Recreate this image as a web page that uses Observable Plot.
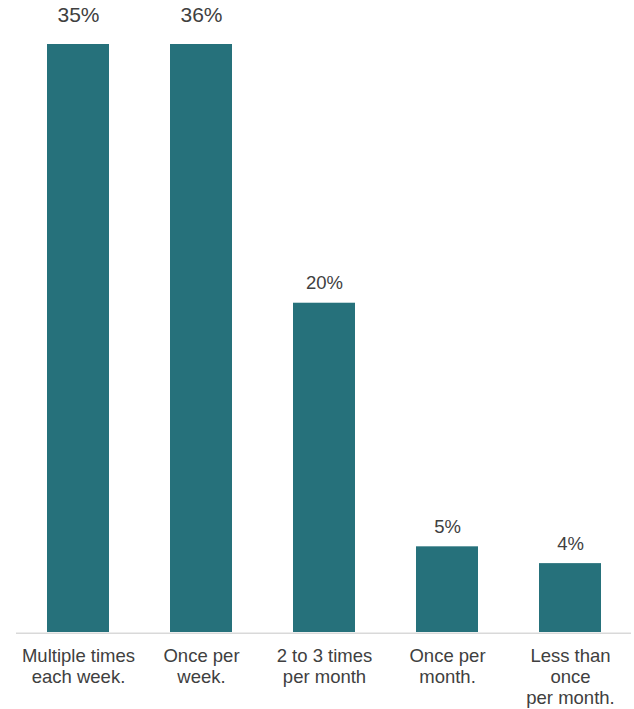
<!DOCTYPE html>
<html>
<head>
<meta charset="utf-8">
<script src="https://cdn.jsdelivr.net/npm/d3@7"></script>
<script src="https://cdn.jsdelivr.net/npm/@observablehq/plot@0.6"></script>
<style>
  html, body { margin: 0; padding: 0; background: #ffffff; }
  #chart svg { display: block; }
</style>
</head>
<body>
<div id="chart"></div>
<script>
// Data
const categories = [
  "Multiple times each week.",
  "Once per week.",
  "2 to 3 times per month",
  "Once per month.",
  "Less than once per month."
];
const tickLabels = [
  "Multiple times\neach week.",
  "Once per\nweek.",
  "2 to 3 times\nper month",
  "Once per\nmonth.",
  "Less than\nonce\nper month."
];
const values = [35, 36, 19.6, 5.1, 4.1];
const axisMax = 35; // bars above this are cut off at the top of the chart

const data = categories.map((c, i) => ({
  category: c,
  tick: tickLabels[i],
  value: values[i],
  label: Math.round(values[i]) + "%"
}));

const font = "'Liberation Sans', Arial, Helvetica, sans-serif";
const textColor = "#404040";

const chart = Plot.plot({
  width: 634,
  height: 709,
  marginTop: 44,
  marginBottom: 77,
  marginLeft: 16,
  marginRight: 3,
  style: { fontFamily: font, background: "#ffffff" },
  x: { domain: categories, paddingInner: 0.5, paddingOuter: 0.25, axis: null },
  y: { domain: [0, axisMax], clamp: true, axis: null },
  marks: [
    Plot.barY(data, { x: "category", y: "value", fill: "#26717b" }),
    Plot.ruleY([0], { stroke: "#d9d9d9", strokeWidth: 1.5, dy: 0.75 }),
    // value labels for bars within the axis
    Plot.text(data.filter(d => d.value < axisMax), {
      x: "category", y: "value", text: "label",
      lineAnchor: "bottom", dy: -14, fontSize: 18.5, fill: textColor
    }),
    // value labels for bars reaching the top
    Plot.text(data.filter(d => d.value >= axisMax), {
      x: "category", y: "value", text: "label",
      lineAnchor: "bottom", dy: -23, fontSize: 21, fill: textColor
    }),
    // category labels below the baseline
    Plot.text(data, {
      x: "category", y: () => 0, text: "tick",
      lineAnchor: "top", dy: 15, fontSize: 18.5, lineHeight: 1.12, fill: textColor
    })
  ]
});
document.getElementById("chart").appendChild(chart);
</script>
</body>
</html>
